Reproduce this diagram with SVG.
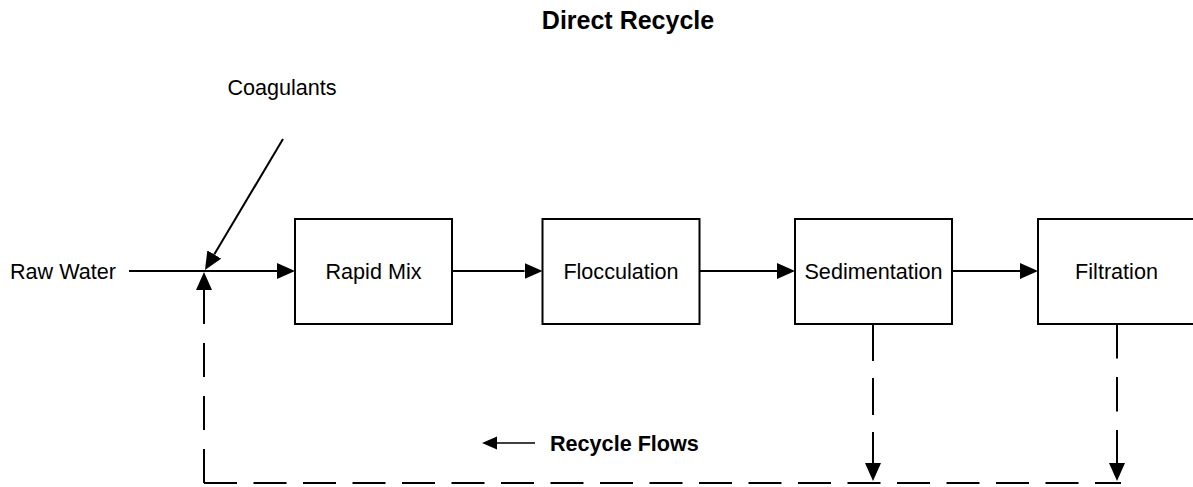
<svg xmlns="http://www.w3.org/2000/svg" width="1193" height="487" viewBox="0 0 1193 487">
  <style>
    .box { fill: #ffffff; stroke: #000000; stroke-width: 2; }
    .lbl { font-family: "Liberation Sans", Arial, sans-serif; font-size: 21.6px; fill: #000000; }
    .bold { font-weight: bold; }
    .flow { fill: none; stroke: #000000; stroke-width: 2; }
    .thin { fill: none; stroke: #000000; stroke-width: 1.5; }
  </style>
  <defs>
    <!-- filled arrowhead; the path ends at the arrowhead base -->
    <marker id="head" markerUnits="userSpaceOnUse" markerWidth="18" markerHeight="16" viewBox="0 -8 18 16" refX="0" refY="0" orient="auto">
      <path d="M0,-8 L18,0 L0,8 z" fill="#000000"/>
    </marker>
    <marker id="headSmall" markerUnits="userSpaceOnUse" markerWidth="15" markerHeight="14" viewBox="0 -7 15 14" refX="0" refY="0" orient="auto">
      <path d="M0,-6.5 L15,0 L0,6.5 z" fill="#000000"/>
    </marker>
  </defs>

  <rect width="1193" height="487" fill="#ffffff"/>

  <text class="lbl bold" x="628" y="29" text-anchor="middle" style="font-size:25px">Direct Recycle</text>

  <g id="connectors">
    <!-- raw water feed into rapid mix -->
    <path class="flow" d="M129,271 H277" marker-end="url(#head)"/>
    <!-- coagulant dosing -->
    <path class="flow" d="M283,139 L214.2,254.5" marker-end="url(#head)"/>
    <!-- process train -->
    <path class="flow" d="M452,271 H524.5" marker-end="url(#head)"/>
    <path class="flow" d="M700,271 H777" marker-end="url(#head)"/>
    <path class="flow" d="M952,271 H1020" marker-end="url(#head)"/>
    <!-- waste streams down to the recycle header -->
    <path class="flow" d="M873,324 V463" stroke-dasharray="37 17" marker-end="url(#head)"/>
    <path class="flow" d="M1117,324 V463" stroke-dasharray="34.5 18.5" marker-end="url(#head)"/>
    <!-- recycle header back to the head of the plant -->
    <path class="flow" d="M204,483 H1121" stroke-width="2.5" stroke-dasharray="33 16.5"/>
    <path class="flow" d="M204,483 V290" stroke-dasharray="34 19" marker-end="url(#head)"/>
    <!-- legend arrow -->
    <path class="thin" d="M535,443 H497" marker-end="url(#headSmall)"/>
  </g>

  <g id="coagulants">
    <text class="lbl" x="282" y="95" text-anchor="middle">Coagulants</text>
  </g>
  <g id="raw-water">
    <text class="lbl" x="10" y="279">Raw Water</text>
  </g>
  <g id="rapid-mix">
    <rect class="box" x="295" y="219" width="157" height="105"/>
    <text class="lbl" x="373.5" y="279" text-anchor="middle">Rapid Mix</text>
  </g>
  <g id="flocculation">
    <rect class="box" x="542.5" y="219" width="157" height="105"/>
    <text class="lbl" x="621" y="279" text-anchor="middle">Flocculation</text>
  </g>
  <g id="sedimentation">
    <rect class="box" x="795" y="219" width="157" height="105"/>
    <text class="lbl" x="873.5" y="279" text-anchor="middle">Sedimentation</text>
  </g>
  <g id="filtration">
    <rect class="box" x="1038" y="219" width="157" height="105"/>
    <text class="lbl" x="1116.5" y="279" text-anchor="middle">Filtration</text>
  </g>
  <g id="recycle-flows">
    <text class="lbl bold" x="550" y="451">Recycle Flows</text>
  </g>
</svg>
